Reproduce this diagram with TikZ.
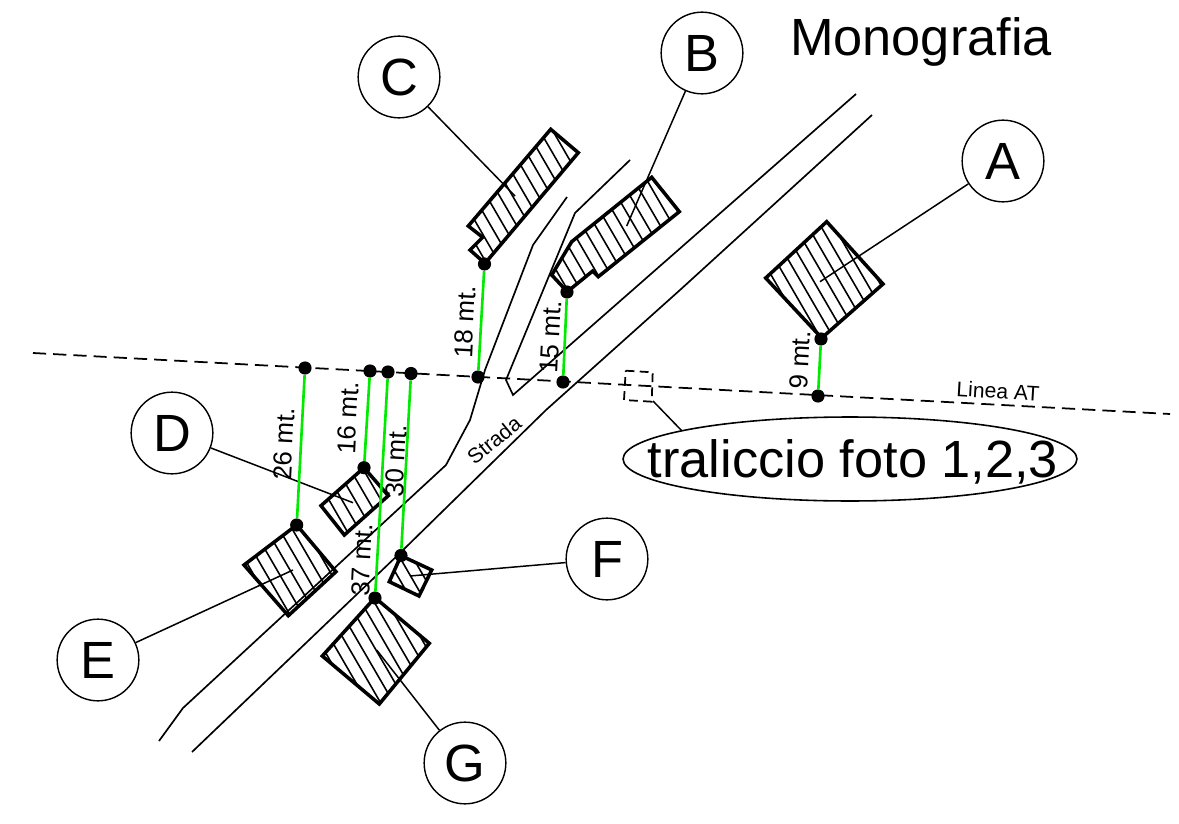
\documentclass[tikz,border=0pt]{standalone}
\usepackage{fontspec}
\setmainfont{Liberation Sans}
\definecolor{distgreen}{RGB}{0,235,0}
\newcommand{\hatchedhouse}[3]{
	\begin{scope}
	\clip #1 -- cycle;
	\foreach \k in {-12,...,12}
		\draw[hatchline] (#2+\k*13-58,#3-100) -- (#2+\k*13+58,#3+100);
	\end{scope}
	\draw[wall] #1 -- cycle;
}
\begin{document}
\begin{tikzpicture}[x=0.02cm,y=-0.02cm]
	\tikzstyle{hatchline}=[draw=black,line width=0.9pt]
	\tikzstyle{wall}=[draw=black,line width=2pt,line join=miter]
	\tikzstyle{road}=[draw=black,line width=0.95pt]
	\tikzstyle{leader}=[draw=black,line width=0.85pt]
	\tikzstyle{dist}=[draw=distgreen,line width=1.5pt]
	\tikzstyle{dot}=[circle,fill=black,minimum size=7.5pt,inner sep=0pt]
	\tikzstyle{callout}=[circle,draw=black,fill=white,line width=0.8pt,minimum size=46.5pt,inner sep=0pt,font=\fontsize{29.8}{32}\selectfont]
	\tikzstyle{measure}=[rotate=87,inner sep=0pt,font=\fontsize{14.8}{16}\selectfont]
	\useasboundingbox (0,0) rectangle (1179,824);
	\fill[white] (0,0) rectangle (1179,824);
	\draw[road] (567,197) -- (533,245) -- (485,370) -- (470,420) -- (446,465) -- (183,708) -- (159,741);
	\draw[road] (630,160) -- (575,213) -- (506,380) -- (513,395) -- (856,94);
	\draw[road] (872,115) -- (680,290) -- (546,410) -- (400,553) -- (192,752);
	\draw[black,line width=1pt,dash pattern=on 7.5pt off 4pt] (33,353) -- (1170,414);
	\draw[black,line width=1pt,dash pattern=on 5pt off 3pt] (625.7,370.7) -- (652.7,372.3) -- (651.7,401.7) -- (624,400) -- cycle;
	\hatchedhouse{(765.7,278) -- (826.7,221.7) -- (883,284) -- (821.7,338)}{826}{280}
	\hatchedhouse{(551.7,275) -- (571.7,241.7) -- (651.7,177.3) -- (679.3,211.7) -- (598.3,276.7) -- (592.7,271) -- (567.3,291.7)}{612}{232}
	\hatchedhouse{(468.3,226) -- (550.7,129.3) -- (578.3,152.7) -- (485,263.3) -- (470,250) -- (482.7,237.3)}{525}{195}
	\hatchedhouse{(321,505.7) -- (364,467.7) -- (388.3,495.7) -- (344.3,535)}{355}{500}
	\hatchedhouse{(244,565) -- (296.7,525) -- (336,571.7) -- (288.3,615.7)}{290}{570}
	\hatchedhouse{(389.3,581.7) -- (401,555.7) -- (431.7,570) -- (419,596)}{410}{575}
	\hatchedhouse{(322.3,656) -- (375,597.7) -- (429.3,643.3) -- (379.3,704)}{376}{650}
	\node[callout] (A) at (1003,161) {A};
	\node[callout] (B) at (702,53) {B};
	\node[callout] (C) at (399,77) {C};
	\node[callout] (D) at (172,433) {D};
	\node[callout] (E) at (98,660) {E};
	\node[callout] (F) at (607,559) {F};
	\node[callout] (G) at (465,763) {G};
	\coordinate (a) at (820,281.7);
	\coordinate (b) at (626.7,226);
	\coordinate (c) at (515,196);
	\coordinate (d) at (353,502.7);
	\coordinate (e) at (293,570);
	\coordinate (f) at (410,576);
	\coordinate (g) at (376.7,650);
	\draw[leader] (A) -- (a);
	\draw[leader] (B) -- (b);
	\draw[leader] (C) -- (c);
	\draw[leader] (D) -- (d);
	\draw[leader] (E) -- (e);
	\draw[leader] (F) -- (f);
	\draw[leader] (G) -- (g);
	\node[dot] (la) at (818,396) {};
	\node[dot] (lb) at (563,382) {};
	\node[dot] (lc) at (478,377) {};
	\node[dot] (ld) at (370,371) {};
	\node[dot] (le) at (305,368) {};
	\node[dot] (lf) at (411,373.5) {};
	\node[dot] (lg) at (388,372) {};
	\node[dot] (ha) at (821,339) {};
	\node[dot] (hb) at (567,292) {};
	\node[dot] (hc) at (484.5,264) {};
	\node[dot] (hd) at (364,467.7) {};
	\node[dot] (he) at (296.7,525) {};
	\node[dot] (hf) at (401,555.5) {};
	\node[dot] (hg) at (375,598) {};
	\draw[dist] (la) -- (ha);
	\draw[dist] (lb) -- (hb);
	\draw[dist] (lc) -- (hc);
	\draw[dist] (ld) -- (hd);
	\draw[dist] (le) -- (he);
	\draw[dist] (lf) -- (hf);
	\draw[dist] (lg) -- (hg);
	\node[measure] (ma) at (800,360) {9 mt.};
	\node[measure] (mb) at (551,337) {15 mt.};
	\node[measure] (mc) at (465,322) {18 mt.};
	\node[measure] (md) at (348,418) {16 mt.};
	\node[measure] (me) at (284,444) {26 mt.};
	\node[measure] (mf) at (396,461) {30 mt.};
	\node[measure] (mg) at (362,560) {37 mt.};
	\node[rotate=39,inner sep=0pt,font=\fontsize{12}{14}\selectfont] (strada) at (494,440) {Strada};
	\node[rotate=-3.4,inner sep=0pt,font=\fontsize{12}{14}\selectfont] (linea) at (998,391) {Linea AT};
	\node[font=\fontsize{29.8}{32}\selectfont,inner sep=0pt] (title) at (921,42) {Monografia};
	\node[font=\fontsize{29.8}{32}\selectfont,inner sep=0pt] (traliccio) at (853,462) {traliccio foto 1,2,3};
	\draw[line width=0.9pt] (850,459) ellipse [x radius=4.54cm,y radius=0.84cm];
	\coordinate (tower) at (653,401);
	\coordinate (towerfoot) at (682,431);
	\draw[leader] (tower) -- (towerfoot);
\end{tikzpicture}
\end{document}
